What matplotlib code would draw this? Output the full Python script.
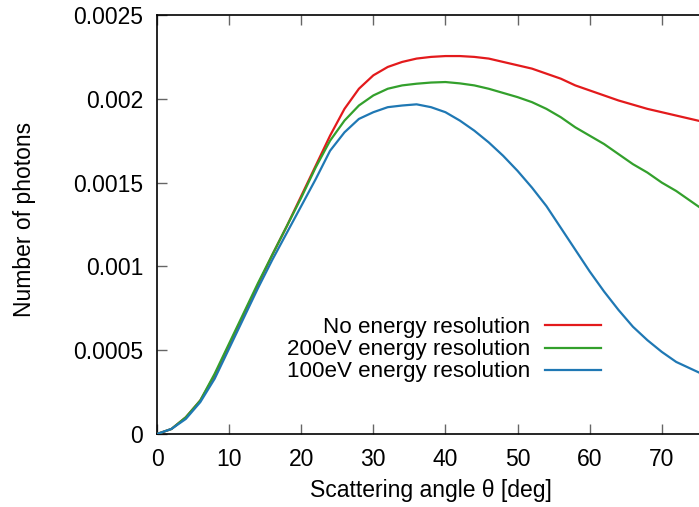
import numpy as np
import matplotlib
matplotlib.use('Agg')
from matplotlib import pyplot as plt
from matplotlib.legend import Legend

plt.rcParams['font.family'] = ['Liberation Sans', 'DejaVu Sans']

# scattering angle grid (deg) and number of photons
angle = [0, 2, 4, 6, 8, 10, 12, 14, 16, 18, 20, 22, 24, 26, 28, 30, 32, 34,
         36, 38, 40, 42, 44, 46, 48, 50, 52, 54, 56, 58, 60, 62, 64, 66, 68,
         70, 72, 74, 76, 78]

no_res = [0, 0.00003, 0.00010, 0.00020, 0.00035, 0.00053, 0.00071, 0.00089,
          0.00107, 0.00124, 0.00142, 0.00160, 0.00178, 0.00194, 0.00206,
          0.00214, 0.00219, 0.00222, 0.00224, 0.00225, 0.002255, 0.002255,
          0.00225, 0.00224, 0.00222, 0.00220, 0.00218, 0.00215, 0.00212,
          0.00208, 0.00205, 0.00202, 0.00199, 0.001965, 0.00194, 0.00192,
          0.00190, 0.00188, 0.00186, 0.00184]
res_200 = [0, 0.00003, 0.00010, 0.00020, 0.00036, 0.00054, 0.00072, 0.00090,
           0.00107, 0.00124, 0.00141, 0.00159, 0.00175, 0.00187, 0.00196,
           0.00202, 0.00206, 0.00208, 0.00209, 0.002097, 0.00210, 0.002092,
           0.00208, 0.00206, 0.002035, 0.00201, 0.00198, 0.00194, 0.00189,
           0.00183, 0.00178, 0.00173, 0.00167, 0.00161, 0.00156, 0.00150,
           0.00145, 0.00139, 0.00133, 0.00127]
res_100 = [0, 0.00003, 0.00009, 0.00019, 0.00033, 0.00051, 0.00069, 0.00087,
           0.00104, 0.00120, 0.00136, 0.00152, 0.00169, 0.00180, 0.00188,
           0.00192, 0.00195, 0.00196, 0.001967, 0.00195, 0.00192, 0.00187,
           0.00181, 0.00174, 0.00166, 0.00157, 0.00147, 0.00136, 0.00123,
           0.00110, 0.00097, 0.00085, 0.00074, 0.00064, 0.00056, 0.00049,
           0.00043, 0.00039, 0.00035, 0.00032]

series = [
    (no_res, 'No energy resolution', '#e31a1c'),
    (res_200, '200eV energy resolution', '#33a02c'),
    (res_100, '100eV energy resolution', '#1f78b4'),
]

xticks = [0, 10, 20, 30, 40, 50, 60, 70]
yticks = [0, 0.0005, 0.001, 0.0015, 0.002, 0.0025]
ytick_labels = ['0', '0.0005', '0.001', '0.0015', '0.002', '0.0025']

W, H = 699, 507
fs = 16.5
fig = plt.figure(figsize=(W / 100, H / 100), dpi=100)
# axes runs past the right edge of the picture (cropped like the original)
ax = fig.add_axes([157 / W, 1 - 434 / H, 649 / W, 419 / H])

lines = []
for vals, lab, col in series:
    ln, = ax.plot(angle, vals, color=col, lw=1.6, label=lab, zorder=3,
                  solid_joinstyle='round')
    lines.append(ln)

ax.set_xlim(0, 90)
ax.set_ylim(0, 0.0025)
ax.set_xticks(xticks)
ax.set_yticks(yticks)
ax.set_yticklabels(ytick_labels)
ax.tick_params(direction='in', length=7, width=1, color='#666666',
               top=True, right=True, labelsize=fs, pad=10)
for s in ax.spines.values():
    s.set_linewidth(1.2)

ax.set_xlabel('Scattering angle θ [deg]', fontsize=fs)
ax.xaxis.set_label_coords((431 - 157) / 649, -(479 - 434) / 419)
ax.set_ylabel('Number of photons', fontsize=fs)
ax.yaxis.set_label_coords(-(157 - 36) / 649, (434 - 219) / 419)

# gnuplot style key: text right aligned, sample line after it
rows = [327, 350, 372]
for ln, y in zip(lines, rows):
    leg = Legend(ax, [ln], [ln.get_label()], loc='center right',
                 bbox_to_anchor=(601 / W, 1 - y / H),
                 bbox_transform=fig.transFigure, frameon=False,
                 markerfirst=False, fontsize=16.1, handlelength=2.5,
                 handletextpad=0.65, borderpad=0, borderaxespad=0)
    ax.add_artist(leg)

fig.savefig('out.png', dpi=100)
